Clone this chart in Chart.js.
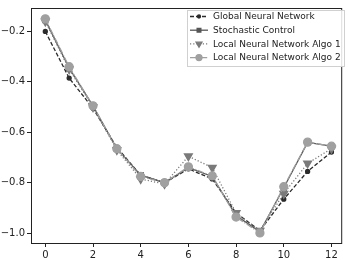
<!DOCTYPE html>
<html>
<head>
<meta charset="utf-8">
<script src="https://cdn.jsdelivr.net/npm/chart.js@4"></script>
<style>
  html, body { margin: 0; padding: 0; background: #fff; }
  #wrap { width: 348px; height: 260px; }
</style>
</head>
<body>
<div id="wrap"><canvas id="chart" width="348" height="260"></canvas></div>
<script>
// iterations on x, objective values on y
const steps = [0, 1, 2, 3, 4, 5, 6, 7, 8, 9, 10, 11, 12];
const globalNN   = [-0.20, -0.385, -0.505, -0.66, -0.77, -0.80, -0.745, -0.785, -0.92, -0.99, -0.865, -0.755, -0.678];
const stochastic = [-0.155, -0.345, -0.495, -0.665, -0.77, -0.80, -0.74, -0.775, -0.93, -0.995, -0.82, -0.64, -0.655];
const localAlgo1 = [-0.16, -0.35, -0.50, -0.67, -0.785, -0.805, -0.695, -0.74, -0.92, -0.99, -0.843, -0.723, -0.665];
const localAlgo2 = [-0.15, -0.34, -0.495, -0.665, -0.775, -0.80, -0.737, -0.773, -0.936, -0.999, -0.816, -0.639, -0.655];
const xTicks = [0, 2, 4, 6, 8, 10, 12];
const yTicks = [-1.0, -0.8, -0.6, -0.4, -0.2];

const pts = arr => steps.map((s, i) => ({ x: s, y: arr[i] }));

const series = [
  { label: 'Global Neural Network', data: pts(globalNN), color: '#2b2b2b', dash: [4, 2], style: 'circle', r: 2 },
  { label: 'Stochastic Control', data: pts(stochastic), color: '#555555', dash: [], style: 'rect', r: 3.5 },
  { label: 'Local Neural Network Algo 1', data: pts(localAlgo1), color: '#7a7a7a', dash: [1.2, 2], style: 'triangle', r: 4.5 },
  { label: 'Local Neural Network Algo 2', data: pts(localAlgo2), color: '#a0a0a0', dash: [6.4, 1.6, 1.2, 1.6], style: 'circle', r: 4 }
];

const FONT = '"DejaVu Sans", sans-serif';
const minus = v => v.toFixed(1).replace('-', '\u2212');

// axes frame + matplotlib style legend
const framePlugin = {
  id: 'frame',
  afterDraw(chart) {
    const ctx = chart.ctx, a = chart.chartArea;
    ctx.save();
    ctx.strokeStyle = '#222';
    ctx.lineWidth = 1;
    ctx.strokeRect(a.left + 0.5, a.top + 0.5, a.right - a.left - 1, a.bottom - a.top);

    const bx = 187, by = 10, bw = 158, bh = 57;
    ctx.fillStyle = 'rgba(255,255,255,0.85)';
    ctx.strokeStyle = '#d0d0d0';
    ctx.fillRect(bx, by, bw, bh);
    ctx.strokeRect(bx + 0.5, by + 0.5, bw - 1, bh - 1);

    ctx.font = '9px ' + FONT;
    ctx.textBaseline = 'middle';
    series.forEach((s, i) => {
      const y = by + 6.5 + i * 13.7;
      ctx.strokeStyle = s.color;
      ctx.lineWidth = 1.3;
      ctx.setLineDash(s.dash);
      ctx.beginPath();
      ctx.moveTo(bx + 3, y);
      ctx.lineTo(bx + 21, y);
      ctx.stroke();
      ctx.setLineDash([]);
      ctx.fillStyle = s.color;
      ctx.strokeStyle = s.color;
      Chart.helpers.drawPoint(ctx, {
        pointStyle: s.style,
        radius: s.r * 0.75,
        rotation: s.style === 'triangle' ? 180 : 0,
        borderWidth: 1
      }, bx + 12, y);
      ctx.fillStyle = '#222';
      ctx.fillText(s.label, bx + 26, y + 0.5);
    });
    ctx.restore();
  }
};

const datasets = series.map((s, i) => ({
  label: s.label,
  data: s.data,
  order: series.length - i,
  borderColor: s.color,
  backgroundColor: s.color,
  pointBackgroundColor: s.color,
  pointBorderColor: s.color,
  borderWidth: 1.3,
  borderDash: s.dash,
  pointStyle: s.style,
  pointRadius: s.r,
  pointRotation: s.style === 'triangle' ? 180 : 0,
  tension: 0
}));

new Chart(document.getElementById('chart'), {
  type: 'line',
  data: { datasets },
  options: {
    responsive: false,
    animation: false,
    devicePixelRatio: 1,
    layout: { padding: { top: 5, right: 1, left: 0, bottom: 0 } },
    plugins: { legend: { display: false }, tooltip: { enabled: false } },
    scales: {
      x: {
        type: 'linear',
        min: -0.6,
        max: 12.45,
        afterBuildTicks: sc => { sc.ticks = xTicks.map(v => ({ value: v })); },
        afterFit: sc => { sc.height = 17; },
        grid: { drawOnChartArea: false, tickLength: 4, color: '#222' },
        border: { display: false },
        ticks: { color: '#222', font: { family: FONT, size: 10 }, padding: 2, maxRotation: 0 }
      },
      y: {
        min: -1.039,
        max: -0.107,
        afterBuildTicks: sc => { sc.ticks = yTicks.map(v => ({ value: v })); },
        afterFit: sc => { sc.width = 31; },
        grid: { drawOnChartArea: false, tickLength: 4, color: '#222' },
        border: { display: false },
        ticks: { color: '#222', font: { family: FONT, size: 10 }, padding: 2, callback: v => minus(v) }
      }
    }
  },
  plugins: [framePlugin]
});
</script>
</body>
</html>
